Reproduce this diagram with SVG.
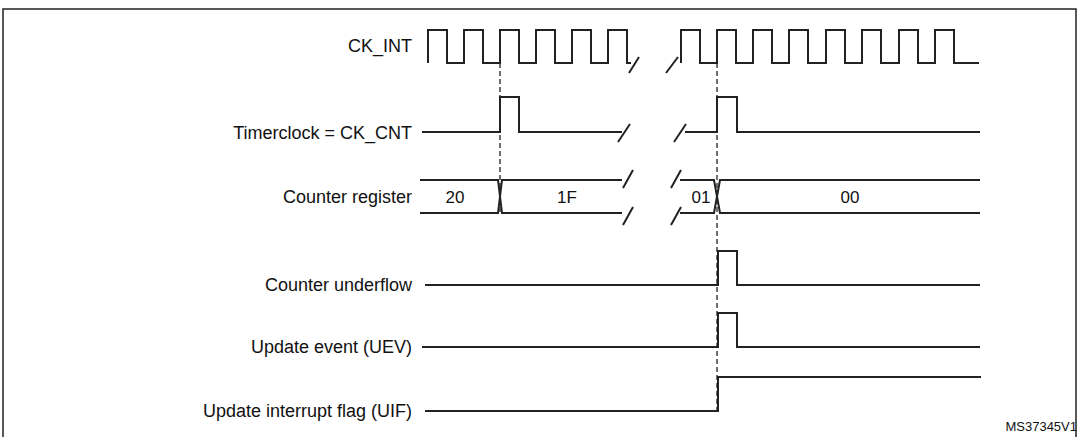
<svg xmlns="http://www.w3.org/2000/svg" width="1079" height="437" viewBox="0 0 1079 437">
<style>
.w{fill:none;stroke:#222;stroke-width:2}
.d{fill:none;stroke:#222;stroke-width:1.3;stroke-dasharray:5,3}
.l{font-family:"Liberation Sans",Arial,sans-serif;font-size:18px;fill:#111;text-anchor:end}
.v{font-family:"Liberation Sans",Arial,sans-serif;font-size:17px;fill:#111;text-anchor:middle}
</style>
<rect x="3" y="9" width="1073" height="440" fill="#fff" stroke="#222" stroke-width="1.5"/>
<g id="labels">
<text class="l" x="412" y="52">CK_INT</text>
<text class="l" x="412" y="139">Timerclock = CK_CNT</text>
<text class="l" x="412" y="203">Counter register</text>
<text class="l" x="412" y="291">Counter underflow</text>
<text class="l" x="412" y="353">Update event (UEV)</text>
<text class="l" x="412" y="417">Update interrupt flag (UIF)</text>
<text x="1077" y="431" font-family="Liberation Sans,Arial,sans-serif" font-size="13" fill="#111" text-anchor="end">MS37345V1</text>
</g>
<g id="ck_int">
<path class="w" d="M428,63 V30 H447 V63 H464 V30 H483 V63 H500 V30 H519 V63 H536 V30 H555 V63 H572 V30 H591 V63 H608 V30 H627 V63 H631"/>
<path class="w" d="M629,73 L639,57 M666,73 L678,57"/>
<path class="w" d="M681,63 V30 H700 V63 H717 V30 H736 V63 H753 V30 H772 V63 H789 V30 H808 V63 H826 V30 H845 V63 H862 V30 H881 V63 H899 V30 H918 V63 H935 V30 H954 V63 H979"/>
</g>
<g id="timerclock">
<path class="w" d="M422,132 H500 V97 H519 V132 H622 M618,142 L630,124 M674,142 L686,124 M685,132 H717 V97 H737 V132 H980"/>
</g>
<g id="counter">
<path class="w" d="M420,180 H498 L502,213 H622 M420,213 H498 L502,180 H622"/>
<path class="w" d="M623,188 L633,170 M623,225 L633,207 M671,188 L681,170 M671,225 L681,207"/>
<path class="w" d="M680,180 H714 L720,213 H980 M680,213 H714 L720,180 H980"/>
<text class="v" x="455" y="203">20</text>
<text class="v" x="567" y="203">1F</text>
<text class="v" x="701" y="203">01</text>
<text class="v" x="850" y="203">00</text>
</g>
<g id="underflow"><path class="w" d="M425,285 H718 V251 H737 V285 H980"/></g>
<g id="uev"><path class="w" d="M422,347 H718 V313 H737 V347 H980"/></g>
<g id="uif"><path class="w" d="M425,411 H718 V377 H981"/></g>
<g id="connectors">
<path class="d" d="M500,63 V213 M717,63 V411"/>
</g>
</svg>
